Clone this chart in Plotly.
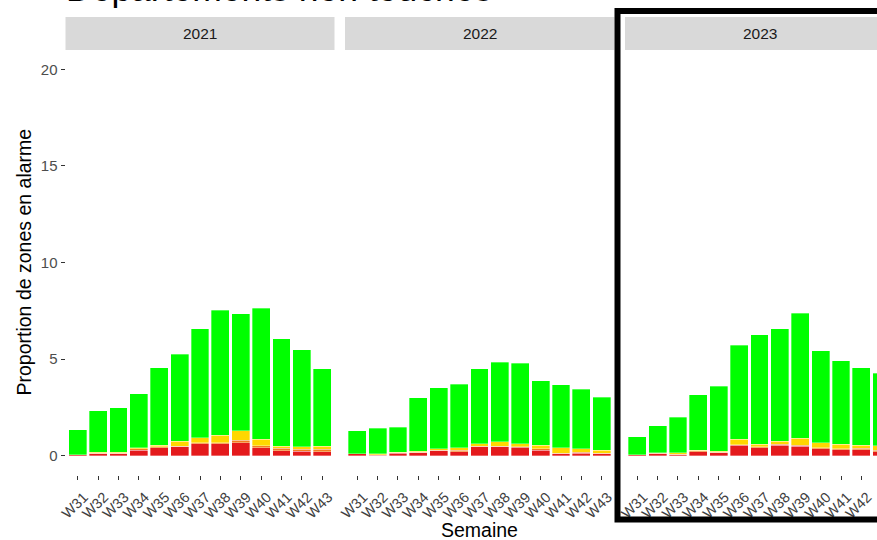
import plotly.graph_objects as go

W, H = 877, 540

weeks = ["W31", "W32", "W33", "W34", "W35", "W36", "W37",
         "W38", "W39", "W40", "W41", "W42", "W43"]
years = ["2021", "2022", "2023"]

# proportion of zones per alarm level, stacked bottom to top
red_2021 = [0.05, 0.10, 0.10, 0.29, 0.41, 0.47, 0.62, 0.62, 0.67, 0.41, 0.26, 0.24, 0.21]
orange_2021 = [0.00, 0.03, 0.03, 0.06, 0.04, 0.03, 0.05, 0.05, 0.14, 0.11, 0.12, 0.09, 0.12]
yellow_2021 = [0.00, 0.04, 0.04, 0.06, 0.10, 0.24, 0.25, 0.40, 0.47, 0.33, 0.12, 0.12, 0.17]
green_2021 = [1.28, 2.15, 2.30, 2.80, 3.99, 4.51, 5.64, 6.46, 6.06, 6.77, 5.55, 5.04, 3.99]

red_2022 = [0.10, 0.03, 0.12, 0.14, 0.26, 0.21, 0.45, 0.45, 0.43, 0.29, 0.10, 0.12, 0.10]
orange_2022 = [0.00, 0.02, 0.03, 0.03, 0.03, 0.06, 0.04, 0.04, 0.04, 0.07, 0.03, 0.05, 0.03]
yellow_2022 = [0.00, 0.05, 0.04, 0.07, 0.06, 0.13, 0.13, 0.24, 0.15, 0.19, 0.27, 0.18, 0.16]
green_2022 = [1.18, 1.32, 1.28, 2.75, 3.16, 3.30, 3.87, 4.11, 4.16, 3.34, 3.26, 3.10, 2.73]

red_2023 = [0.05, 0.10, 0.05, 0.21, 0.16, 0.54, 0.40, 0.55, 0.50, 0.36, 0.31, 0.31, 0.21]
orange_2023 = [0.00, 0.02, 0.03, 0.04, 0.03, 0.03, 0.05, 0.03, 0.04, 0.05, 0.05, 0.07, 0.07]
yellow_2023 = [0.00, 0.02, 0.06, 0.04, 0.05, 0.28, 0.15, 0.16, 0.36, 0.25, 0.24, 0.16, 0.24]
green_2023 = [0.93, 1.41, 1.85, 2.87, 3.35, 4.87, 5.65, 5.82, 6.47, 4.78, 4.32, 4.00, 3.75]

y_ticks = [0, 5, 10, 15, 20]

levels = {
    "2021": [red_2021, orange_2021, yellow_2021, green_2021],
    "2022": [red_2022, orange_2022, yellow_2022, green_2022],
    "2023": [red_2023, orange_2023, yellow_2023, green_2023],
}
colors = ["#E41A1C", "#F47C20", "#FFD700", "#00FF00"]

FONT = "Liberation Sans, Arial, sans-serif"


def px_x(v):
    return v / W


def px_y(v):
    return 1 - v / H


# panel geometry in pixels (left, right)
panels = [(65.5, 334.5), (345.0, 614.5), (625.0, 894.0)]
unit = (panels[0][1] - panels[0][0]) / 13.2
plot_top, plot_bottom = 50, 475

fig = go.Figure()

for i, year in enumerate(years):
    axis = "x" if i == 0 else f"x{i + 1}"
    for vals, col in zip(levels[year], colors):
        fig.add_trace(go.Bar(
            x=weeks, y=vals, xaxis=axis, yaxis="y",
            marker=dict(color=col, line=dict(color="rgba(255,255,255,0.55)", width=0.6)),
            showlegend=False,
        ))

layout = dict(
    width=W, height=H,
    margin=dict(l=0, r=0, t=0, b=0, pad=0),
    paper_bgcolor="white", plot_bgcolor="white",
    barmode="stack", bargap=0.12,
    font=dict(family=FONT, color="#4D4D4D"),
    yaxis=dict(
        domain=[px_y(plot_bottom), px_y(plot_top)],
        range=[-1, 21], tickvals=y_ticks,
        ticks="outside", ticklen=4, tickwidth=1, tickcolor="#333333",
        tickfont=dict(size=15, color="#4D4D4D"),
        showgrid=False, zeroline=False, showline=False,
        anchor="x", automargin=False,
    ),
)

shapes = []
annotations = []
for i, (left, right) in enumerate(panels):
    key = "xaxis" if i == 0 else f"xaxis{i + 1}"
    dom_right = min(right, W)
    rng_end = -0.6 + (dom_right - left) / unit
    layout[key] = dict(
        domain=[px_x(left), px_x(dom_right)],
        range=[-0.6, rng_end],
        type="category", categoryorder="array", categoryarray=weeks,
        ticks="outside", ticklen=4, tickwidth=1, tickcolor="#333333",
        tickangle=-45, tickfont=dict(size=14.5, color="#404040"),
        ticklabelshift=6, ticklabelstandoff=3,
        showgrid=False, zeroline=False, showline=False,
        anchor="y", automargin=False,
    )
    # facet strip
    shapes.append(dict(
        type="rect", xref="paper", yref="paper",
        x0=px_x(left), x1=px_x(right), y0=px_y(50), y1=px_y(17),
        fillcolor="#D9D9D9", line=dict(width=0), layer="below",
    ))
    annotations.append(dict(
        text=years[i], xref="paper", yref="paper",
        x=px_x((left + right) / 2), y=px_y(33.5),
        showarrow=False, font=dict(size=15.5, color="#1A1A1A"),
        xanchor="center", yanchor="middle",
    ))

# highlight box around 2023
shapes.append(dict(
    type="rect", xref="paper", yref="paper",
    x0=px_x(617.5), x1=px_x(930), y0=px_y(519.5), y1=px_y(11),
    line=dict(color="black", width=6), fillcolor="rgba(0,0,0,0)",
))

annotations.append(dict(
    text="Semaine", xref="paper", yref="paper",
    x=px_x(479.5), y=px_y(530), showarrow=False,
    font=dict(size=19.5, color="black"), xanchor="center", yanchor="middle",
))
annotations.append(dict(
    text="Proportion de zones en alarme", xref="paper", yref="paper",
    x=px_x(23.5), y=px_y(262), showarrow=False, textangle=-90,
    font=dict(size=19.5, color="black"), xanchor="center", yanchor="middle",
))
annotations.append(dict(
    text="Départements non touchés", xref="paper", yref="paper",
    x=px_x(64), y=px_y(10.5), showarrow=False,
    font=dict(size=35.5, color="black"), xanchor="left", yanchor="bottom",
))

layout["shapes"] = shapes
layout["annotations"] = annotations
fig.update_layout(**layout)

# the page body keeps its default 8px margin otherwise
fig.write_html("out.html", config={"displayModeBar": False},
               post_script="document.body.style.margin='0';")
